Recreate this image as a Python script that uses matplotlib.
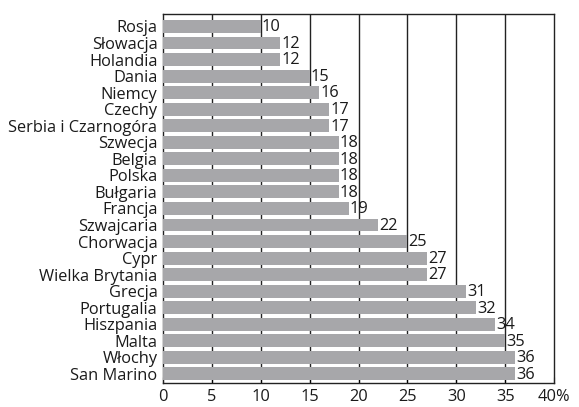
import matplotlib
matplotlib.use("Agg")
from matplotlib import pyplot as plt

countries = ["Rosja", "Słowacja", "Holandia", "Dania", "Niemcy", "Czechy",
             "Serbia i Czarnogóra", "Szwecja", "Belgia", "Polska", "Bułgaria",
             "Francja", "Szwajcaria", "Chorwacja", "Cypr", "Wielka Brytania",
             "Grecja", "Portugalia", "Hiszpania", "Malta", "Włochy", "San Marino"]
values = [10, 12, 12, 15, 16, 17, 17, 18, 18, 18, 18, 19, 22, 25, 27, 27,
          31, 32, 34, 35, 36, 36]
xticks = [0, 5, 10, 15, 20, 25, 30, 35, 40]
xticklabels = ["0", "5", "10", "15", "20", "25", "30", "35", "40%"]

plt.rcParams['font.family'] = ['Open Sans', 'DejaVu Sans']
fs = 11.8

fig = plt.figure(figsize=(5.79, 4.07), dpi=100)
ax = fig.add_axes([0.2815, 0.059, 0.957 - 0.2815, 0.9656 - 0.059])

y = list(range(len(countries)))
ax.barh(y, values, height=0.78, color="#a7a7aa", zorder=3)
for i, v in enumerate(values):
    ax.text(v + 0.1, i + 0.05, str(v), va="center", ha="left", fontsize=fs,
            color="#1a1a1a", zorder=4)

ax.set_ylim(len(countries) - 0.45, -0.75)
ax.set_xlim(0, 40)
ax.set_yticks(y)
ax.set_yticklabels(countries, fontsize=fs, color="#1a1a1a")
ax.tick_params(axis="y", length=0, pad=4)
ax.set_xticks(xticks)
ax.set_xticklabels(xticklabels, fontsize=fs, color="#1a1a1a")
ax.tick_params(axis="x", direction="in", length=4, pad=4)
for x in xticks[1:-1]:
    ax.axvline(x, color="#222222", lw=1.0, zorder=1)
for s in ax.spines.values():
    s.set_color("#222222")
    s.set_linewidth(1.0)

fig.savefig("out.png", dpi=100)
